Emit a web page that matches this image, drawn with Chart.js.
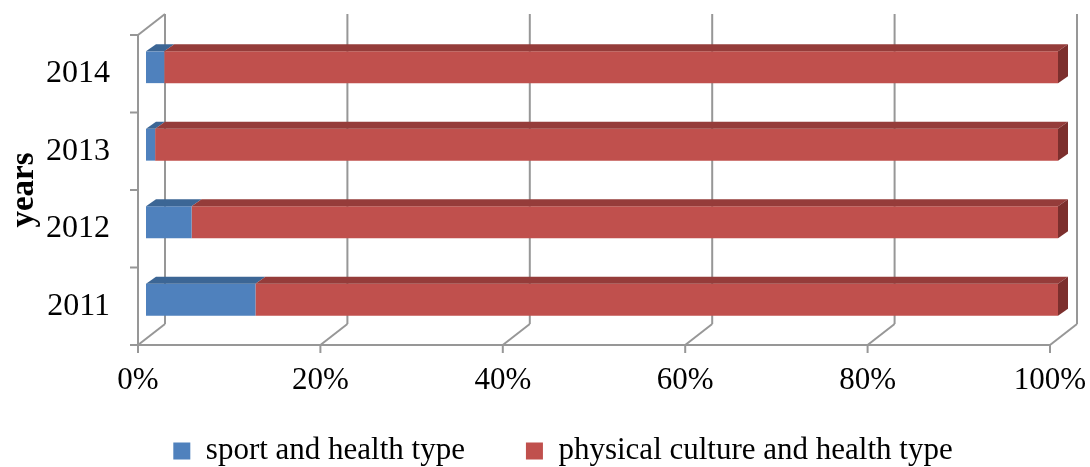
<!DOCTYPE html>
<html><head><meta charset="utf-8">
<script src="https://cdn.jsdelivr.net/npm/chart.js@4/dist/chart.umd.min.js"></script>
<style>html,body{margin:0;padding:0;background:#fff;overflow:hidden}</style>
</head><body>
<canvas id="c" width="1090" height="467"></canvas>
<script>
// ---- data ----
const years = ['2011', '2012', '2013', '2014'];
const sportHealth = [12, 5, 1, 2];
const physicalCulture = [88, 95, 99, 98];
const xTickValues = [0, 20, 40, 60, 80, 100];
const seriesNames = ['sport and health type', 'physical culture and health type'];
const axisTitle = 'years';

// ---- styles ----
const frontColors = ['#4F81BD', '#C0504D'];
const topColors = ['#3C6695', '#953C3A'];
const sideColor = '#7C2F2D';
const wallColor = '#979797';
const WALL_DX = 27, WALL_DY = 21;   // depth of the back wall
const BAR_DX = 8, BAR_DY = -6.5;     // bars sit a little behind the front plane
const FACE_DX = 10, FACE_DY = 7;     // depth of each bar
const LEGEND_FONT = 31;
const LEGEND_GAP = 61;
const LEGEND_CENTER_Y = 451;
const LEGEND_SHIFT_X = -13;

const threeD = {
  id: 'threeD',
  afterLayout(chart) {
    const lg = chart.legend;
    if (lg) {
      lg.options.labels.padding = LEGEND_GAP;
      lg.top = LEGEND_CENTER_Y - LEGEND_GAP - LEGEND_FONT / 2;
      lg.bottom = chart.height;
      lg.height = lg.bottom - lg.top;
      lg.left += LEGEND_SHIFT_X; lg.right += LEGEND_SHIFT_X;
    }
  },
  beforeDatasetsDraw(chart) {
    const {ctx, chartArea: a, scales: {x, y}} = chart;
    ctx.save();
    ctx.strokeStyle = wallColor;
    ctx.lineWidth = 2;
    ctx.lineCap = 'butt';
    const line = (x1, y1, x2, y2) => { ctx.beginPath(); ctx.moveTo(x1, y1); ctx.lineTo(x2, y2); ctx.stroke(); };
    x.ticks.forEach(t => {
      const px = x.getPixelForValue(t.value);
      line(px + WALL_DX, a.top - WALL_DY, px + WALL_DX, a.bottom - WALL_DY);
      line(px, a.bottom, px + WALL_DX, a.bottom - WALL_DY);
      line(px, a.bottom, px, a.bottom + 8);
    });
    line(a.left - 8, a.bottom, a.right, a.bottom);
    line(a.left, a.top, a.left, a.bottom);
    line(a.left, a.top, a.left + WALL_DX, a.top - WALL_DY);
    const n = y.ticks.length;
    for (let i = 0; i <= n; i++) {
      const py = a.top + i * (a.bottom - a.top) / n;
      line(a.left - 8, py, a.left, py);
    }
    ctx.restore();
    ctx.save();
    ctx.translate(BAR_DX, BAR_DY);
  },
  afterDatasetsDraw(chart) {
    const ctx = chart.ctx;
    const last = chart.data.datasets.length - 1;
    chart.data.datasets.forEach((ds, di) => {
      chart.getDatasetMeta(di).data.forEach(bar => {
        const p = bar.getProps(['x', 'y', 'base', 'height'], true);
        const l = Math.min(p.x, p.base), r = Math.max(p.x, p.base);
        const t = p.y - p.height / 2, b = p.y + p.height / 2;
        ctx.fillStyle = topColors[di];
        ctx.beginPath();
        ctx.moveTo(l, t); ctx.lineTo(r, t);
        ctx.lineTo(r + FACE_DX, t - FACE_DY); ctx.lineTo(l + FACE_DX, t - FACE_DY);
        ctx.closePath(); ctx.fill();
        if (di === last) {
          ctx.fillStyle = sideColor;
          ctx.beginPath();
          ctx.moveTo(r, t); ctx.lineTo(r + FACE_DX, t - FACE_DY);
          ctx.lineTo(r + FACE_DX, b - FACE_DY); ctx.lineTo(r, b);
          ctx.closePath(); ctx.fill();
        }
      });
    });
    ctx.restore();
  }
};

Chart.defaults.font.family = "'Liberation Serif', 'Times New Roman', serif";
Chart.defaults.color = '#000';

new Chart(document.getElementById('c'), {
  type: 'bar',
  data: {
    labels: years,
    datasets: [
      {label: seriesNames[0], data: sportHealth, backgroundColor: frontColors[0], borderWidth: 0, clip: false},
      {label: seriesNames[1], data: physicalCulture, backgroundColor: frontColors[1], borderWidth: 0, clip: false}
    ]
  },
  options: {
    indexAxis: 'y',
    responsive: false,
    animation: false,
    devicePixelRatio: 1,
    layout: {padding: {left: 0, right: 40, top: 35, bottom: 0}},
    datasets: {bar: {categoryPercentage: 1, barPercentage: 0.41}},
    scales: {
      x: {
        type: 'linear', stacked: true, min: 0, max: 100,
        afterBuildTicks: s => { s.ticks = xTickValues.map(v => ({value: v})); },
        afterFit: s => { s.height = 467 - 345 - (LEGEND_FONT + 10 + 10); s.paddingLeft = 0; s.paddingRight = 0; s.paddingTop = 0; s.paddingBottom = 0; },
        grid: {display: false, drawTicks: false},
        border: {display: false},
        ticks: {padding: 17, font: {size: 31}, callback: v => v + '%', maxRotation: 0, autoSkip: false}
      },
      y: {
        type: 'category', stacked: true, reverse: true,
        afterFit: s => { s.width = 138; s.paddingTop = 0; s.paddingBottom = 0; s.paddingLeft = 0; s.paddingRight = 0; },
        grid: {display: false, drawTicks: false},
        border: {display: false},
        ticks: {padding: 28, font: {size: 32}},
        title: {display: true, text: axisTitle, font: {size: 33, weight: 'bold'}, padding: {top: 5, bottom: 0}}
      }
    },
    plugins: {
      legend: {
        position: 'bottom',
        labels: {boxWidth: 17, boxHeight: 17, padding: 10, font: {size: LEGEND_FONT}}
      },
      tooltip: {enabled: false}
    }
  },
  plugins: [threeD]
});
</script>
</body></html>
